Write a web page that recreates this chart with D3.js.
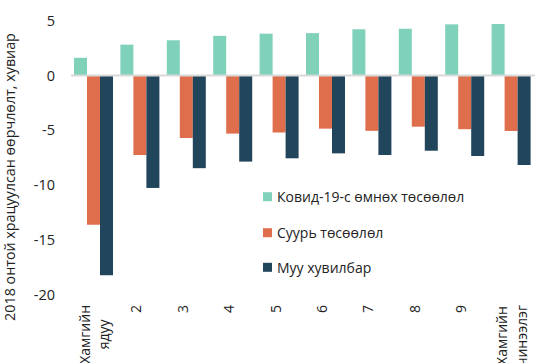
<!DOCTYPE html>
<html>
<head>
<meta charset="utf-8">
<script src="https://cdn.jsdelivr.net/npm/d3@7"></script>
<style>
  html, body { margin: 0; padding: 0; background: #fff; }
  svg { display: block; font-family: "Open Sans", "Noto Sans", sans-serif; }
</style>
</head>
<body>
<svg id="chart" width="535" height="363"></svg>
<script>
// Income groups (deciles), poorest to richest
const categories = ["Хамгийн ядуу", "2", "3", "4", "5", "6", "7", "8", "9", "Хамгийн чинээлэг"];
// Each label split into display lines
const categoryLines = [["Хамгийн", "ядуу"], ["2"], ["3"], ["4"], ["5"], ["6"], ["7"], ["8"], ["9"], ["Хамгийн", "чинээлэг"]];

const seriesNames = ["Ковид-19-с өмнөх төсөөлөл", "Суурь төсөөлөл", "Муу хувилбар"];
const preCovid = [1.6, 2.8, 3.2, 3.6, 3.8, 3.85, 4.2, 4.25, 4.65, 4.68];
const baseline = [-13.6, -7.25, -5.7, -5.3, -5.2, -4.85, -5.05, -4.67, -4.9, -5.06];
const worstCase = [-18.2, -10.25, -8.45, -7.85, -7.55, -7.1, -7.25, -6.86, -7.34, -8.16];
const seriesColors = ["#7fd1b9", "#df6e4d", "#21465c"];

const yTicks = [5, 0, -5, -10, -15, -20];
const yTitle = "2018 онтой храцуулсан өөрчлөлт, хувиар";

const svg = d3.select("#chart");
const seriesValues = [preCovid, baseline, worstCase];

const y = d3.scaleLinear().domain([-20, 5]).range([295, 20.5]);
const x0 = d3.scaleBand().domain(categories).range([71, 535]);
const x1 = d3.scaleBand().domain(seriesNames).range([3, 42]);

// Y tick labels (no axis line, no tick marks)
const yAxis = d3.axisLeft(y).tickValues(yTicks).tickSize(0).tickPadding(0)
  .tickFormat(d => d < 0 ? "-" + Math.abs(d) : String(d));
const gy = svg.append("g").attr("transform", "translate(55,0)").call(yAxis);
gy.select(".domain").remove();
gy.selectAll("text")
  .attr("font-size", 14.5)
  .attr("font-family", "'Open Sans', 'Noto Sans', sans-serif")
  .attr("fill", "#222");

// Y axis title
svg.append("text")
  .attr("transform", "translate(15,177) rotate(-90)")
  .attr("text-anchor", "middle")
  .attr("font-size", 14.3)
  .attr("fill", "#222")
  .text(yTitle);

// Bars
const groups = svg.append("g").selectAll("g")
  .data(categories)
  .join("g")
  .attr("transform", d => `translate(${x0(d)},0)`);

groups.selectAll("rect")
  .data((d, i) => seriesNames.map((s, k) => ({ s, k, v: seriesValues[k][i] })))
  .join("rect")
  .attr("x", d => x1(d.s))
  .attr("width", x1.bandwidth())
  .attr("y", d => y(Math.max(0, d.v)))
  .attr("height", d => Math.abs(y(d.v) - y(0)))
  .attr("fill", d => seriesColors[d.k]);

// Zero line
svg.append("line")
  .attr("x1", 71).attr("x2", 535)
  .attr("y1", y(0)).attr("y2", y(0))
  .attr("stroke", "#d9d9d9")
  .attr("stroke-width", 2);

// Rotated category labels; multi-line labels are centred on each other
const labelTop = 305;
const lineOffsets = { 1: [-3], 2: [-8.5, 11] };
categories.forEach((c, i) => {
  const lines = categoryLines[i];
  const cx = x0(c) + x0.bandwidth() / 2 - 1.7;
  const texts = lines.map((ln, j) =>
    svg.append("text")
      .attr("font-size", 14)
      .attr("fill", "#222")
      .attr("text-anchor", "middle")
      .attr("dominant-baseline", "central")
      .text(ln));
  const maxLen = d3.max(texts, t => t.node().getComputedTextLength());
  const cy = labelTop + maxLen / 2;
  texts.forEach((t, j) => {
    t.attr("transform", `translate(${cx + lineOffsets[lines.length][j]},${cy}) rotate(-90)`);
  });
});

// Legend
const legendRows = [196.7, 232.7, 267.3];
const legend = svg.append("g");
seriesNames.forEach((s, k) => {
  legend.append("rect")
    .attr("x", 263).attr("y", legendRows[k] - 4.5)
    .attr("width", 9).attr("height", 9)
    .attr("fill", seriesColors[k]);
  legend.append("text")
    .attr("x", 277).attr("y", legendRows[k])
    .attr("dominant-baseline", "central")
    .attr("font-size", 14)
    .attr("fill", "#222")
    .text(s);
});
</script>
</body>
</html>
